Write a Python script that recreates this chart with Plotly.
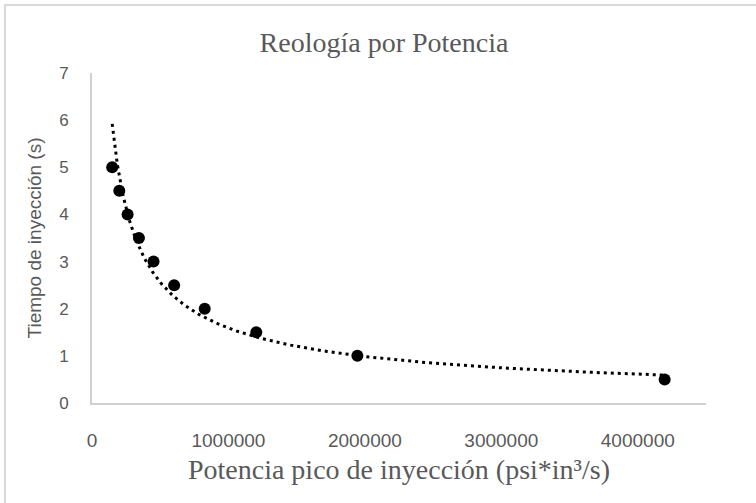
import numpy as np
import plotly.graph_objects as go

# Data
potencia = [148000, 200000, 261000, 344000, 451000, 602000, 826000, 1204000, 1945000, 4197000]
tiempo = [5.0, 4.5, 4.0, 3.5, 3.0, 2.5, 2.0, 1.5, 1.0, 0.5]

title_text = "Reología por Potencia"
x_title = "Potencia pico de inyección (psi*in³/s)"
y_title = "Tiempo de inyección (s)"
x_ticks = [0, 1000000, 2000000, 3000000, 4000000]
y_ticks = [0, 1, 2, 3, 4, 5, 6, 7]

# Power trendline (least squares in log-log space, like Excel)
b, ln_a = np.polyfit(np.log(potencia), np.log(tiempo), 1)
xt = np.geomspace(min(potencia), max(potencia), 200)
yt = np.exp(ln_a) * xt ** b

W, H = 756, 503
L, R, T, B = 92, 50, 73, 100
pw, ph = W - L - R, H - T - B

fig = go.Figure()
fig.add_trace(go.Scatter(x=xt, y=yt, mode="lines",
                         line=dict(color="black", width=3, dash="3px,4px"),
                         hoverinfo="skip", showlegend=False))
fig.add_trace(go.Scatter(x=potencia, y=tiempo, mode="markers",
                         marker=dict(color="black", size=12),
                         showlegend=False))

grey = "#595959"
fig.update_layout(
    width=W, height=H,
    margin=dict(l=L, r=R, t=T, b=B),
    paper_bgcolor="white", plot_bgcolor="white",
    title=dict(text=title_text, x=384 / W, xanchor="center",
               y=1 - 42 / H, yanchor="middle",
               font=dict(family="Liberation Serif", size=28, color=grey)),
    xaxis=dict(range=[0, 4500000], tickvals=x_ticks, ticktext=[str(v) for v in x_ticks],
               showgrid=False, zeroline=False, showline=True, linecolor="#d0d0d0", linewidth=2,
               ticks="", ticklabelstandoff=19,
               tickfont=dict(family="Liberation Sans", size=19, color=grey),
               title=dict(text=x_title, standoff=10,
                          font=dict(family="Liberation Serif", size=28, color=grey))),
    yaxis=dict(range=[0, 7], tickvals=y_ticks, showgrid=False, zeroline=False,
               showline=True, linecolor="#d0d0d0", linewidth=2,
               ticks="", ticklabelstandoff=18,
               tickfont=dict(family="Liberation Sans", size=17, color=grey),
               title=dict(text=y_title, standoff=12,
                          font=dict(family="Liberation Sans", size=19, color=grey))),
)

# chart-area border (only top/left visible in the reference)
fig.add_shape(type="rect", xref="paper", yref="paper",
              x0=(5 - L) / pw, x1=(W + 20 - L) / pw,
              y0=-(B + 20) / ph, y1=(H - B - 5) / ph,
              line=dict(color="#d9d9d9", width=2), fillcolor="rgba(0,0,0,0)", layer="below")

fig.write_html("out.html", config={"displayModeBar": False},
               post_script="document.body.style.margin='0';")
